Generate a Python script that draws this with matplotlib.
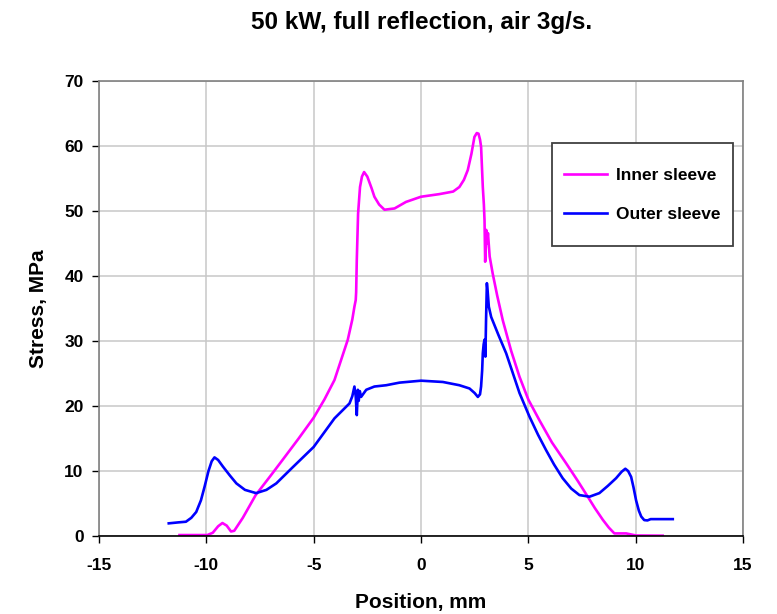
#!/usr/bin/env python3
"""
Stress along the sleeve position for the inner and outer sleeve.
"""
import matplotlib
matplotlib.use('Agg')
import matplotlib.pyplot as plt
from matplotlib.legend_handler import HandlerLine2D

inner_x = [-11.25, -9.95, -9.7, -9.45, -9.25, -9.05, -8.85, -8.7, -8.3, -7.7,
           -7.0, -6.45, -5.7, -5.0, -4.5, -4.03, -3.7, -3.41, -3.2, -3.1,
           -3.04, -3.02, -2.99, -2.93, -2.84, -2.75, -2.65, -2.5, -2.3, -2.17,
           -1.95, -1.7, -1.23, -0.7, 0.0, 0.85, 1.5, 1.79, 2.0, 2.18,
           2.35, 2.49, 2.6, 2.68, 2.75, 2.8, 2.88, 2.93, 2.96, 2.99,
           3.02, 3.04, 3.08, 3.12, 3.2, 3.34, 3.55, 3.81, 4.2, 4.59,
           5.0, 5.52, 6.1, 6.76, 7.3, 7.77, 8.1, 8.47, 8.75, 9.01,
           9.56, 10.02, 11.26]
inner_y = [0.15, 0.15, 0.5, 1.5, 2.0, 1.6, 0.7, 0.8, 2.8, 6.3,
           9.3, 11.7, 15.0, 18.2, 21.0, 24.0, 27.3, 30.2, 33.3, 35.3,
           36.3, 37.5, 42.5, 49.6, 53.7, 55.3, 56.0, 55.3, 53.5, 52.2,
           51.0, 50.2, 50.4, 51.4, 52.2, 52.6, 53.0, 53.7, 54.8, 56.3,
           58.8, 61.4, 62.0, 61.9, 61.0, 59.9, 53.7, 51.0, 48.6, 42.2,
           44.5, 47.1, 45.0, 46.6, 43.0, 40.4, 37.0, 33.2, 28.5, 24.5,
           21.0, 17.8, 14.4, 11.2, 8.5, 6.05, 4.3, 2.5, 1.3, 0.4,
           0.4, 0.08, 0.05]

outer_x = [-11.75, -11.3, -10.95, -10.7, -10.47, -10.25, -10.08, -9.9, -9.75, -9.62,
           -9.45, -9.23, -8.9, -8.6, -8.2, -7.68, -7.2, -6.74, -6.0, -5.0,
           -4.03, -3.33, -3.2, -3.1, -3.04, -2.99, -2.94, -2.9, -2.85, -2.79,
           -2.55, -2.17, -1.62, -1.0, 0.0, 1.02, 1.79, 2.26, 2.5, 2.65,
           2.75, 2.8, 2.85, 2.88, 2.92, 2.96, 3.0, 3.03, 3.07, 3.11,
           3.16, 3.27, 3.6, 3.97, 4.59, 5.05, 5.45, 5.83, 6.2, 6.6,
           7.0, 7.38, 7.85, 8.31, 8.7, 9.09, 9.35, 9.52, 9.65, 9.79,
           9.9, 10.02, 10.15, 10.26, 10.4, 10.55, 10.7, 11.73]
outer_y = [1.95, 2.1, 2.2, 2.8, 3.7, 5.5, 7.6, 10.0, 11.5, 12.1,
           11.7, 10.7, 9.3, 8.1, 7.1, 6.6, 7.1, 8.1, 10.5, 13.7,
           18.1, 20.4, 21.5, 23.0, 21.5, 18.6, 22.5, 20.8, 22.3, 21.4,
           22.5, 23.0, 23.2, 23.6, 23.9, 23.7, 23.2, 22.7, 22.0, 21.4,
           21.8, 23.0, 25.5, 28.1, 29.5, 30.2, 27.6, 33.0, 38.9, 37.5,
           35.3, 33.7, 31.0, 28.1, 22.0, 18.4, 15.6, 13.2, 11.0, 8.9,
           7.3, 6.3, 6.05, 6.6, 7.7, 8.9, 9.9, 10.35, 10.0, 9.1,
           7.5, 5.5, 3.9, 3.0, 2.45, 2.4, 2.6, 2.6]

x_ticks = [-15, -10, -5, 0, 5, 10, 15]
y_ticks = [0, 10, 20, 30, 40, 50, 60, 70]


class LowLine(HandlerLine2D):
    # legend line moved down to sit level with the label text
    def create_artists(self, legend, orig_handle, xdescent, ydescent,
                       width, height, fontsize, trans):
        return super().create_artists(legend, orig_handle, xdescent,
                                      ydescent + 0.75 * fontsize,
                                      width, height, fontsize, trans)


plt.rcParams['font.family'] = ['Liberation Sans', 'DejaVu Sans']
plt.rcParams['font.weight'] = 'bold'
plt.rcParams['axes.unicode_minus'] = False

fig = plt.figure(figsize=(7.77, 6.14), dpi=100)
ax = fig.add_axes([0.1274, 0.127, 0.8288, 0.741])

inner_line, = ax.plot(inner_x, inner_y, color='#ff00ff', lw=1.9,
                      label='Inner sleeve')
outer_line, = ax.plot(outer_x, outer_y, color='#0000ff', lw=1.9,
                      label='Outer sleeve')

ax.set_xlim(-15, 15)
ax.set_ylim(0, 70)
ax.set_xticks(x_ticks)
ax.set_yticks(y_ticks)
ax.grid(True, color='#c8c8c8', lw=1.1)
ax.set_axisbelow(True)
ax.tick_params(labelsize=12.5, length=5, width=1, pad=6, direction='out')
ax.tick_params(axis='x', pad=11)
for lbl in ax.get_xticklabels() + ax.get_yticklabels():
    lbl.set_fontweight('bold')

for side in ['top', 'right', 'left']:
    ax.spines[side].set_color('#808080')
    ax.spines[side].set_linewidth(1.2)
ax.spines['bottom'].set_color('black')
ax.spines['bottom'].set_linewidth(1.2)

ax.set_xlabel('Position, mm', fontsize=15, fontweight='bold', labelpad=14)
ax.set_ylabel('Stress, MPa', fontsize=15, fontweight='bold', labelpad=12)
fig.suptitle('50 kW, full reflection, air 3g/s.', fontsize=17.5,
             fontweight='bold', x=0.543, y=0.982)

handler = LowLine()
leg = ax.legend(loc='upper left', bbox_to_anchor=(0.703, 0.864),
                fontsize=12.5, frameon=True, fancybox=False, framealpha=1,
                edgecolor='#404040', borderpad=0.7, labelspacing=0.0,
                handleheight=3.1, handlelength=2.5, handletextpad=0.5,
                borderaxespad=0,
                handler_map={inner_line: handler, outer_line: handler})
leg.get_frame().set_linewidth(1.3)
for t in leg.get_texts():
    t.set_fontweight('bold')

fig.savefig('out.png', dpi=100)
